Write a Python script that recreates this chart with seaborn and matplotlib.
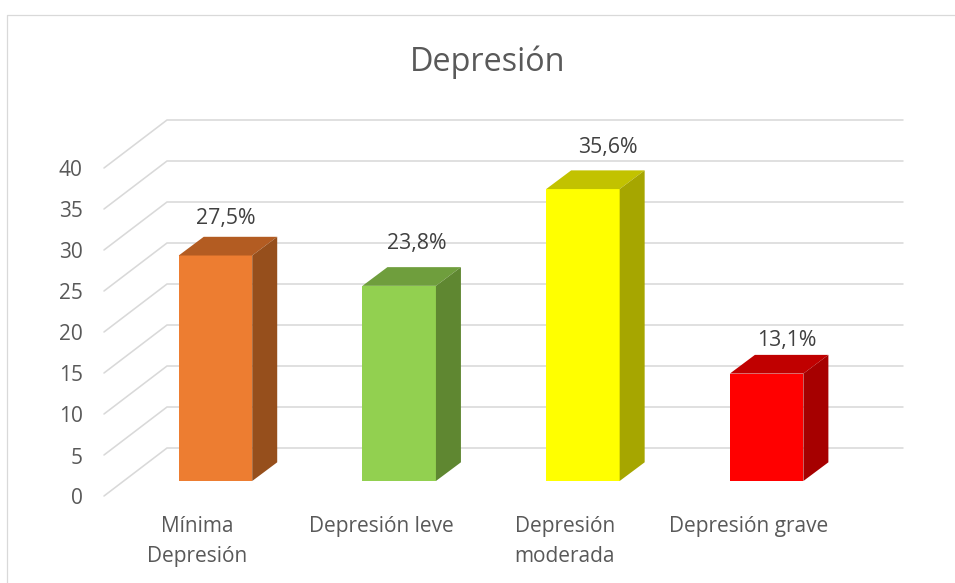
import matplotlib
matplotlib.use('Agg')
import matplotlib.pyplot as plt
import seaborn as sns
from matplotlib.lines import Line2D
from matplotlib.patches import Polygon
from matplotlib.transforms import ScaledTranslation

categories = ['Mínima\nDepresión', 'Depresión leve', 'Depresión\nmoderada', 'Depresión grave']
values = [27.5, 23.8, 35.6, 13.1]
value_labels = ['27,5%', '23,8%', '35,6%', '13,1%']
y_ticks = [0, 5, 10, 15, 20, 25, 30, 35, 40]

front_colors = ['#ED7D31', '#92D050', '#FFFF00', '#FF0000']
top_colors = ['#B35C22', '#6F9E3D', '#C2C200', '#C00000']
side_colors = ['#964F1C', '#5F8731', '#A6A600', '#A60000']

W, H = 955, 583
GREY = '#595959'
LINE = '#D9D9D9'

sns.set_theme(style='white')
plt.rcParams['font.family'] = ['Open Sans', 'DejaVu Sans']

fig = plt.figure(figsize=(W / 100, H / 100), dpi=100, facecolor='white')

# plot box in pixels: bar baseline at y=481, 8.2 px per unit
left, right, base, top = 123.6, 858.5, 481, 153
ax = fig.add_axes([left / W, 1 - base / H, (right - left) / W, (base - top) / H])
ax.patch.set_visible(False)

sns.barplot(x=categories, y=values, hue=categories, palette=front_colors,
            width=0.4, saturation=1, legend=False, ax=ax, zorder=2, linewidth=0)
ax.set_xlim(-0.5, 3.5)
ax.set_ylim(0, 40)
sns.despine(ax=ax, left=True, bottom=True)

# pixels to data units
px_x = 4 / (right - left)
px_y = 40 / (base - top)


def off(dx, dy):
    return ScaledTranslation(dx / 100, -dy / 100, fig.dpi_scale_trans)


# floor and wall lines, front edge sits 15 px below the bar plane
x_front = -0.5 + (104 - left) * px_x
x_back = -0.5 + (167 - left) * px_x
x_end = -0.5 + (903 - left) * px_x
for t in y_ticks:
    y_front = t - 15 * px_y
    y_back = t + 33 * px_y
    ax.plot([x_front, x_back, x_end], [y_front, y_back, y_back], color=LINE,
            lw=1.15, zorder=0.5, clip_on=False, solid_joinstyle='miter')

# 3D faces built from the bars seaborn drew
depth_x = 25 * px_x
depth_y = 18.7 * px_y
for i, bar in enumerate(ax.patches):
    x0 = bar.get_x()
    x1 = x0 + bar.get_width()
    h = bar.get_height()
    ax.add_patch(Polygon([(x0, h), (x1, h), (x1 + depth_x, h + depth_y), (x0 + depth_x, h + depth_y)],
                         closed=True, facecolor=top_colors[i], edgecolor='none', zorder=2, clip_on=False))
    ax.add_patch(Polygon([(x1, 0), (x1 + depth_x, depth_y), (x1 + depth_x, h + depth_y), (x1, h)],
                         closed=True, facecolor=side_colors[i], edgecolor='none', zorder=2, clip_on=False))

# value labels, placed by hand like in the original
label_dx = [10.5, 18, 25, 20]
label_dy = [36.5, 42, 41.5, 33.5]
for i, v in enumerate(values):
    ax.annotate(value_labels[i], (i, v), xytext=(label_dx[i] * 0.72, label_dy[i] * 0.72),
                textcoords='offset points', ha='center', va='center',
                fontsize=15.3, color='#404040', annotation_clip=False)

ax.set_yticks(y_ticks)
ax.set_xticks(range(4))
ax.set_xticklabels(categories, linespacing=1.58)
ax.tick_params(axis='both', length=0, labelsize=15, labelcolor=GREY)
ax.tick_params(axis='y', pad=29.5)
ax.tick_params(axis='x', pad=25)
ax.set_xlabel('')
ax.set_ylabel('')
for lab in ax.get_yticklabels():
    lab.set_transform(lab.get_transform() + off(0, 15.5))
for lab in ax.get_xticklabels():
    lab.set_transform(lab.get_transform() + off(-18, 0))

fig.text(488 / W, 1 - 62 / H, 'Depresión', ha='center', va='center', fontsize=23.3, color=GREY)

# chart frame, cropped at the right and bottom
fig.add_artist(Line2D([7 / W, 7 / W, 1], [0, 1 - 14.7 / H, 1 - 14.7 / H], color=LINE, lw=0.9))

fig.savefig('out.png', dpi=100, facecolor='white')
